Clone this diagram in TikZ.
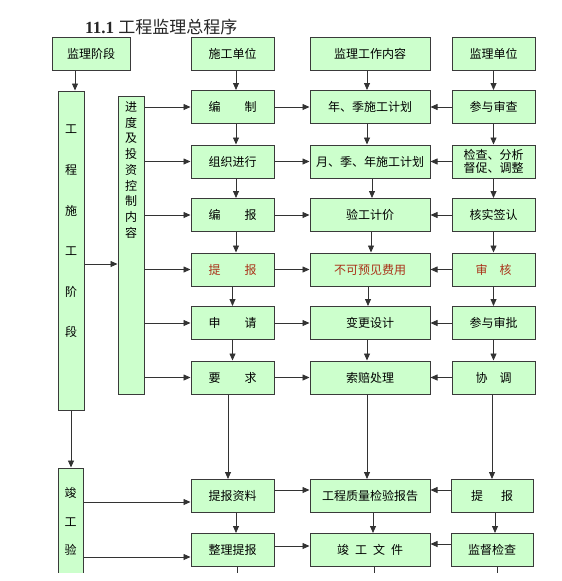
\documentclass[tikz,border=0pt]{standalone}
\usepackage{fontspec}
\newfontfamily\cjk{Noto Sans CJK SC}
\newfontfamily\serif{Liberation Serif}
\usetikzlibrary{arrows.meta,calc}
\definecolor{boxfill}{HTML}{CCFFCC}
\definecolor{boxline}{HTML}{3A3A3A}
\definecolor{redtxt}{RGB}{170,50,25}
\begin{document}
\begin{tikzpicture}[x=1pt,y=-1pt,
  box/.style={draw=boxline,line width=1pt,fill=boxfill,minimum height=33pt,inner sep=0pt,
    font=\cjk\fontsize{12}{13}\selectfont,text=black},
  tall/.style={draw=boxline,line width=1pt,fill=boxfill,inner sep=0pt},
  vtext/.style={inner sep=0pt,align=center,text=black},
  w1/.style={minimum width=83pt},
  w2/.style={minimum width=120pt},
  red/.style={text=redtxt},
  arr/.style={draw=black!80,line width=0.8pt,-{Triangle[length=7pt,width=6pt]}},
  plain/.style={draw=black!80,line width=0.8pt},
]
\useasboundingbox (0,0) rectangle (562,581);
\fill[white] (0,0) rectangle (562,581);
\begin{scope}
\clip (0,0) rectangle (562,572);
% title
\node[anchor=west,inner sep=0pt,text=black!85] (title) at (85,27)
  {\serif\bfseries\fontsize{17}{19}\selectfont 11.1 \cjk\mdseries 工程监理总程序};
% header row
\node[box,minimum width=78pt] (jdjd) at (91,53.5) {监理阶段};
\node[box,w1] (sg0) at (232.5,53.5) {施工单位};
\node[box,w2] (nr0) at (370,53.5) {监理工作内容};
\node[box,w1] (jl0) at (493.5,53.5) {监理单位};
% column 1
\node[box,w1] (sg1) at (232.5,107) {编\hspace{2em}制};
\node[box,w1] (sg2) at (232.5,161.5) {组织进行};
\node[box,w1] (sg3) at (232.5,215) {编\hspace{2em}报};
\node[box,w1,red] (sg4) at (232.5,269.5) {提\hspace{2em}报};
\node[box,w1] (sg5) at (232.5,323) {申\hspace{2em}请};
\node[box,w1] (sg6) at (232.5,377.5) {要\hspace{2em}求};
\node[box,w1] (sg7) at (232.5,496) {提报资料};
\node[box,w1] (sg8) at (232.5,550) {整理提报};
% column 2
\node[box,w2] (nr1) at (370,107) {年、季施工计划};
\node[box,w2] (nr2) at (370,161.5) {月、季、年施工计划};
\node[box,w2] (nr3) at (370,215) {验工计价};
\node[box,w2,red] (nr4) at (370,269.5) {不可预见费用};
\node[box,w2] (nr5) at (370,323) {变更设计};
\node[box,w2] (nr6) at (370,377.5) {索赔处理};
\node[box,w2] (nr7) at (370,496) {工程质量检验报告};
\node[box,w2] (nr8) at (370,550) {竣\hspace{.5em}工\hspace{.5em}文\hspace{.5em}件};
% column 3
\node[box,w1] (jl1) at (493.5,107) {参与审查};
\node[box,w1,align=center] (jl2) at (493.5,161.5) {检查、分析\\督促、调整};
\node[box,w1] (jl3) at (493.5,215) {核实签认};
\node[box,w1,red] (jl4) at (493.5,269.5) {审\hspace{1em}核};
\node[box,w1] (jl5) at (493.5,323) {参与审批};
\node[box,w1] (jl6) at (493.5,377.5) {协\hspace{1em}调};
\node[box,minimum width=82pt] (jl7) at (492,496) {提\hspace{1.5em}报};
\node[box,minimum width=82pt] (jl8) at (492,550) {监督检查};
% tall boxes
\node[tall,minimum width=26pt,minimum height=319pt] (gc) at (71,250.5) {};
\node[vtext,font=\cjk\fontsize{12}{40.6}\selectfont] (gct) at (71,231.5) {工\\程\\施\\工\\阶\\段};
\node[tall,minimum width=26pt,minimum height=298pt] (jd) at (131,245) {};
\node[vtext,font=\cjk\fontsize{12}{15.75}\selectfont] (jdt) at (131,170) {进\\度\\及\\投\\资\\控\\制\\内\\容};
\node[tall,minimum width=25pt,minimum height=140pt] (jg) at (70.5,538) {};
\node[vtext,font=\cjk\fontsize{12}{28.5}\selectfont] (jgt) at (70.5,521.5) {竣\\工\\验};
% left connectors
\draw[arr] ([xshift=-16pt]jdjd.south) -- ([xshift=4pt]gc.north);
\draw[arr] (gc.south) -- (gc.south |- jg.north);
\coordinate (g2j) at ($(gc.east)+(0,13.5)$);
\draw[arr] (g2j) -- (g2j -| jd.west);
\foreach \i in {1,...,6} {\draw[arr] (jd.east |- sg\i.west) -- (sg\i.west);}
\coordinate (s7) at ($(sg7.west)+(0,6)$);
\coordinate (s8) at ($(sg8.west)+(0,7)$);
\draw[arr] (s7 -| jg.east) -- (s7);
\draw[arr] (s8 -| jg.east) -- (s8);
% column 1 verticals
\draw[arr] ([xshift=3.5pt]sg0.south) -- ([xshift=3.5pt]sg1.north);
\draw[arr] ([xshift=3.5pt]sg1.south) -- ([xshift=3.5pt]sg2.north);
\draw[arr] ([xshift=3.5pt]sg2.south) -- ([xshift=3.5pt]sg3.north);
\draw[arr] ([xshift=3.5pt]sg3.south) -- ([xshift=3.5pt]sg4.north);
\draw[arr] (sg4.south) -- (sg5.north);
\draw[arr] (sg5.south) -- (sg6.north);
\draw[arr] ([xshift=-4.5pt]sg6.south) -- ([xshift=-4.5pt]sg7.north);
\draw[arr] ([xshift=3.5pt]sg7.south) -- ([xshift=3.5pt]sg8.north);
\coordinate (e1) at ($(sg8.south)+(4.5,20)$);
\draw[plain] ([xshift=4.5pt]sg8.south) -- (e1);
% column 2 verticals
\draw[arr] ([xshift=-3pt]nr0.south) -- ([xshift=-3pt]nr1.north);
\draw[arr] ([xshift=-3pt]nr1.south) -- ([xshift=-3pt]nr2.north);
\draw[arr] ([xshift=2pt]nr2.south) -- ([xshift=2pt]nr3.north);
\draw[arr] ([xshift=1pt]nr3.south) -- ([xshift=1pt]nr4.north);
\draw[arr] ([xshift=-2pt]nr4.south) -- ([xshift=-2pt]nr5.north);
\draw[arr] ([xshift=-3pt]nr5.south) -- ([xshift=-3pt]nr6.north);
\draw[arr] ([xshift=-3pt]nr6.south) -- ([xshift=-3pt]nr7.north);
\draw[arr] ([xshift=3pt]nr7.south) -- ([xshift=3pt]nr8.north);
\coordinate (e2) at ($(nr8.south)+(4,20)$);
\draw[plain] ([xshift=4pt]nr8.south) -- (e2);
% column 3 verticals
\draw[arr] (jl0.south) -- (jl1.north);
\draw[arr] (jl1.south) -- (jl2.north);
\draw[arr] (jl2.south) -- (jl3.north);
\draw[arr] (jl3.south) -- (jl4.north);
\draw[arr] (jl4.south) -- (jl5.north);
\draw[arr] (jl5.south) -- (jl6.north);
\draw[arr] ([xshift=-1.5pt]jl6.south) -- (jl7.north);
\draw[arr] ([xshift=3pt]jl7.south) -- ([xshift=3pt]jl8.north);
\coordinate (e3) at ($(jl8.south)+(5,20)$);
\draw[plain] ([xshift=5pt]jl8.south) -- (e3);
% horizontals
\foreach \i in {1,...,6} {
  \draw[arr] (sg\i.east) -- (nr\i.west);
  \draw[arr] (jl\i.west) -- (nr\i.east);
}
\draw[arr] ($(sg7.east)+(0,-6)$) -- ($(nr7.west)+(0,-6)$);
\draw[arr] ($(jl7.west)+(0,-6)$) -- ($(nr7.east)+(0,-6)$);
\draw[arr] ($(sg8.east)+(0,-4)$) -- ($(nr8.west)+(0,-4)$);
\draw[arr] ($(jl8.west)+(0,-6)$) -- ($(nr8.east)+(0,-6)$);
\end{scope}
\end{tikzpicture}
\end{document}
